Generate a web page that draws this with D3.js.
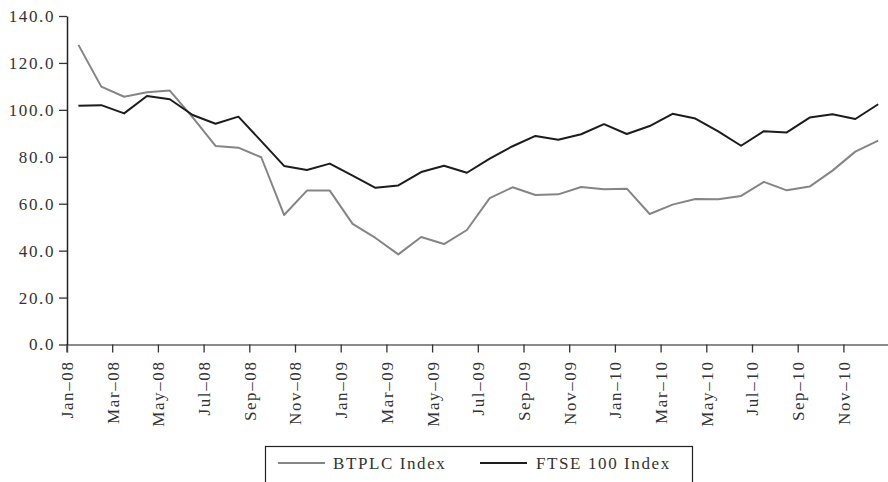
<!DOCTYPE html>
<html>
<head>
<meta charset="utf-8">
<script src="https://cdn.jsdelivr.net/npm/d3@7"></script>
<style>
  body { margin: 0; background: #fff; }
  text { font-family: "Liberation Serif", "Times New Roman", serif; fill: #333; }
</style>
</head>
<body>
<div id="viz"></div>
<script>
// months Jan-08 .. Dec-10
var monthNames = ['Jan','Feb','Mar','Apr','May','Jun','Jul','Aug','Sep','Oct','Nov','Dec'];
var years = ['08','09','10'];
var months = [];
years.forEach(function(y){ monthNames.forEach(function(m){ months.push(m + '\u2013' + y); }); });

var btplc = [127.7, 109.9, 105.6, 107.5, 108.2, 96.8, 84.6, 83.9, 79.8, 55.2, 65.6, 65.6,
             51.4, 45.4, 38.4, 45.8, 42.8, 48.8, 62.4, 67.0, 63.7, 64.0, 67.1, 66.2,
             66.4, 55.6, 59.6, 62.0, 61.9, 63.3, 69.3, 65.7, 67.3, 74.1, 82.2, 86.9];
var ftse = [101.7, 102.0, 98.5, 105.9, 104.5, 97.8, 94.1, 97.1, 86.7, 76.1, 74.4, 77.1,
            72.0, 66.8, 67.8, 73.5, 76.2, 73.2, 79.2, 84.5, 88.9, 87.3, 89.6, 93.9,
            89.7, 93.1, 98.3, 96.3, 90.8, 84.7, 90.9, 90.4, 96.7, 98.1, 96.1, 102.4];
var yTicks = [0, 20, 40, 60, 80, 100, 120, 140];

var series = [
  {name: 'BTPLC Index', values: btplc, color: '#858585'},
  {name: 'FTSE 100 Index', values: ftse, color: '#1c1c1c'}
];

var width = 888, height = 482;
var margin = {top: 16, left: 67, bottom: 137};

var x = d3.scaleBand()
  .domain(months)
  .range([margin.left, margin.left + 36 * 22.85]);

var y = d3.scaleLinear()
  .domain([0, 140])
  .range([height - margin.bottom - 0.5, margin.top]);

var svg = d3.select('#viz')
  .append('svg')
  .attr('width', width)
  .attr('height', height);

// x axis, ticks on band edges
var xAxis = svg.append('g')
  .attr('transform', 'translate(0,' + y(0) + ')')
  .call(d3.axisBottom(x)
    .tickValues(months.filter(function(d, i){ return i % 2 === 0 && i < 35; }))
    .tickSizeOuter(0)
    .tickSize(8));
xAxis.select('.domain').attr('stroke', '#666').attr('stroke-width', 1.5);
xAxis.selectAll('.tick').attr('transform', function(d){ return 'translate(' + x(d) + ',0)'; });
xAxis.selectAll('.tick line').attr('stroke', '#333').attr('stroke-width', 1.3);
xAxis.selectAll('.tick text')
  .attr('transform', 'rotate(-90)')
  .attr('x', -16)
  .attr('y', 0)
  .attr('dy', '0.35em')
  .attr('text-anchor', 'end')
  .style('font-size', '17px')
  .style('letter-spacing', '1.6px')
  .style('font-family', '"Liberation Serif", serif')
  .attr('fill', '#333');

// y axis
var yAxis = svg.append('g')
  .attr('transform', 'translate(' + margin.left + ',0)')
  .call(d3.axisLeft(y)
    .tickValues(yTicks)
    .tickFormat(d3.format('.1f'))
    .tickSize(8)
    .tickSizeOuter(0));
yAxis.select('.domain').attr('stroke', '#222').attr('stroke-width', 1.5);
yAxis.selectAll('.tick line').attr('stroke', '#333').attr('stroke-width', 1.3);
yAxis.selectAll('.tick text')
  .attr('x', -12)
  .style('font-size', '17px')
  .style('letter-spacing', '1.6px')
  .style('font-family', '"Liberation Serif", serif')
  .attr('fill', '#333');

// lines
var line = d3.line()
  .x(function(d, i){ return x(months[i]) + x.bandwidth() / 2; })
  .y(function(d){ return y(d); });

svg.append('g')
  .selectAll('path')
  .data(series)
  .join('path')
  .attr('fill', 'none')
  .attr('stroke', function(d){ return d.color; })
  .attr('stroke-width', 2)
  .attr('stroke-linejoin', 'round')
  .attr('d', function(d){ return line(d.values); });

// legend
var legend = svg.append('g');
legend.append('rect')
  .attr('x', 265.5).attr('y', 446.5)
  .attr('width', 427).attr('height', 50)
  .attr('fill', 'none').attr('stroke', '#222').attr('stroke-width', 1.2);

var legendPos = [{lx: 278, tx: 333}, {lx: 480, tx: 536}];
series.forEach(function(s, i){
  legend.append('line')
    .attr('x1', legendPos[i].lx).attr('x2', legendPos[i].lx + 47)
    .attr('y1', 463).attr('y2', 463)
    .attr('stroke', s.color).attr('stroke-width', 2);
  legend.append('text')
    .attr('x', legendPos[i].tx).attr('y', 469)
    .style('font-size', '17px')
    .style('letter-spacing', '1.6px')
    .text(s.name);
});
</script>
</body>
</html>
